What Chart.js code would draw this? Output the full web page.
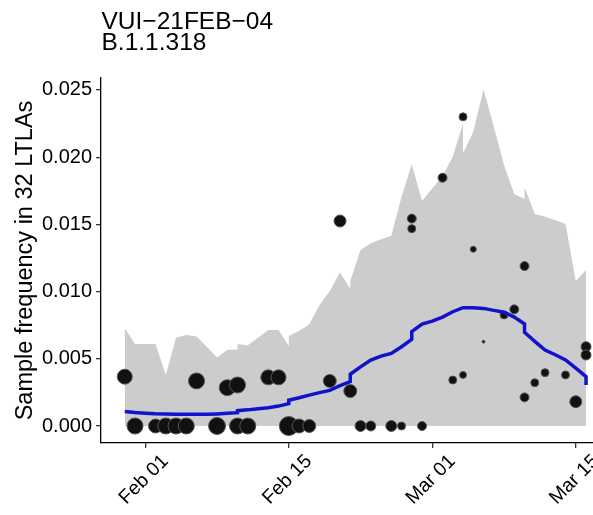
<!DOCTYPE html>
<html lang="en">
<head>
<meta charset="UTF-8">
<title>VUI-21FEB-04 B.1.1.318</title>
<script src="https://cdn.jsdelivr.net/npm/chart.js"></script>
<style>
  html, body { margin: 0; padding: 0; background: #fff; }
  #wrap { width: 593px; height: 515px; }
</style>
</head>
<body>
<div id="wrap"><canvas id="freqChart" width="593" height="515"></canvas></div>
<script>
// all x values are days since 2021-02-01
const titleLines = ["VUI\u221221FEB\u221204", "B.1.1.318"];
const yTitle = "Sample frequency in 32 LTLAs";

const xTickDays = [0, 14, 28, 42];
const xTickLabels = ["Feb 01", "Feb 15", "Mar 01", "Mar 15"];
const yTicks = [0, 0.005, 0.010, 0.015, 0.020, 0.025];

// grey ribbon (lower / upper bound)
const bandDay = [-2,-1,0,1,2,3,4,5,6,7,8,9,9,10,11,12,13,14,14,15,16,17,18,19,20,20,21,22,23,24,25,26,27,28,29,30,31,31,32,33,34,35,36,37,37,38,39,40,41,42,43];
const bandUpper = [0.00727,0.0061,0.0061,0.0061,0.0038,0.00657,0.00677,0.00665,0.0059,0.0051,0.00565,0.0057,0.0061,0.0060,0.00657,0.00714,0.00714,0.00595,0.0067,0.00707,0.00757,0.0090,0.01005,0.01143,0.0102,0.0108,0.0131,0.0136,0.0139,0.01416,0.01706,0.01947,0.01674,0.01767,0.0186,0.02004,0.02252,0.02029,0.0219,0.02505,0.02227,0.01942,0.01726,0.01689,0.01776,0.01577,0.01557,0.0153,0.01503,0.01079,0.0116];
const bandLower = bandDay.map(() => 0);

// blue fitted line
const lineDay = [-2,-1,0,1,2,3,4,5,6,7,8,9,9,10,11,12,13,14,14,15,16,17,18,19,20,20,21,22,23,24,25,26,26,27,28,29,30,31,32,33,34,35,36,37,37,38,39,40,41,42,43,43];
const lineFreq = [0.00107,0.0010,0.00095,0.00091,0.00089,0.00087,0.00087,0.00087,0.00087,0.0009,0.00094,0.00099,0.00114,0.0012,0.00128,0.00136,0.00148,0.00166,0.00192,0.0021,0.0023,0.00248,0.00265,0.003,0.0033,0.00385,0.0044,0.0049,0.0052,0.0054,0.0059,0.00645,0.00702,0.00759,0.0078,0.0081,0.0085,0.0088,0.0088,0.00875,0.0086,0.00846,0.0081,0.00759,0.00697,0.0063,0.00565,0.0053,0.00491,0.0043,0.00367,0.00305];

// observed daily frequencies, sized by number of samples
const ptDay = [-2,-1,1,2,3,4,5,7,8,9,9,10,12,13,14,15,16,18,19,20,21,22,24,25,26,26,27,29,30,31,31,32,33,35,36,37,37,38,39,41,42,43,43];
const ptFreq = [0.00367,0,0,0,0,0,0.00335,0,0.00285,0.00305,0,0,0.00362,0.00362,0,0,0,0.00335,0.01525,0.0026,0,0,0,0,0.01543,0.01468,0,0.01847,0.00342,0.0230,0.0038,0.01315,0.00627,0.00826,0.00868,0.0119,0.00213,0.00322,0.00397,0.0038,0.00181,0.0059,0.00528];
const ptN = [56,64,49,64,64,64,64,72,64,64,64,64,56,56,90,49,42,42,36,42,30,25,30,16,20,16,20,20,16,16,12,9,2,16,20,20,20,16,16,16,36,25,25];

const FONT = "'Liberation Sans', Arial, Helvetica, sans-serif";

const toXY = (xs, ys) => xs.map((d, i) => ({ x: d, y: ys[i] }));

const panelTitle = {
    id: "panelTitle",
    afterDraw(chart) {
        const ctx = chart.ctx;
        ctx.save();
        ctx.fillStyle = "#000";
        ctx.font = "24.5px " + FONT;
        ctx.textBaseline = "alphabetic";
        ctx.textAlign = "left";
        ctx.fillText(titleLines[0], chart.chartArea.left + 0.5, 28.5);
        ctx.fillText(titleLines[1], chart.chartArea.left + 0.5, 49.5);
        ctx.restore();
    }
};

const axisBits = {
    border: { display: true, color: "#000", width: 1.3 },
    grid: { display: true, drawOnChartArea: false, drawTicks: true, tickLength: 5, color: "#333", lineWidth: 1.3 }
};

new Chart(document.getElementById("freqChart"), {
    type: "line",
    data: {
        datasets: [
            {
                data: toXY(bandDay, bandLower),
                borderColor: "rgba(0,0,0,0)", borderWidth: 0,
                pointRadius: 0, fill: false, order: 3
            },
            {
                data: toXY(bandDay, bandUpper),
                borderColor: "rgba(0,0,0,0)", borderWidth: 0,
                backgroundColor: "#cccccc",
                pointRadius: 0, fill: "-1", order: 3
            },
            {
                type: "scatter",
                data: toXY(ptDay, ptFreq),
                pointRadius: ctx => Math.sqrt(ptN[ctx.dataIndex]),
                pointHoverRadius: ctx => Math.sqrt(ptN[ctx.dataIndex]),
                backgroundColor: "#111",
                borderColor: "#555",
                borderWidth: 1,
                order: 2
            },
            {
                data: toXY(lineDay, lineFreq),
                borderColor: "#1212cc",
                borderWidth: 3.5,
                pointRadius: 0, fill: false, tension: 0, order: 1
            }
        ]
    },
    options: {
        responsive: false,
        animation: false,
        devicePixelRatio: 1,
        layout: { autoPadding: false, padding: { top: 78, left: 0, right: 0, bottom: 0 } },
        plugins: { legend: { display: false }, tooltip: { enabled: false } },
        scales: {
            x: {
                type: "linear",
                min: -4.32, max: 43.68,
                afterBuildTicks: s => { s.ticks = xTickDays.map(v => ({ value: v })); },
                afterFit: s => { s.height = 72; s.paddingLeft = 0; s.paddingRight = 0; },
                ...axisBits,
                ticks: {
                    autoSkip: false, minRotation: 45, maxRotation: 45,
                    labelOffset: 20, padding: 2,
                    color: "#000", font: { size: 19.5, family: FONT },
                    callback: v => xTickLabels[xTickDays.indexOf(v)]
                }
            },
            y: {
                min: -0.001265, max: 0.02589,
                afterBuildTicks: s => { s.ticks = yTicks.map(v => ({ value: v })); },
                afterFit: s => { s.width = 101; s.paddingTop = 0; s.paddingBottom = 0; },
                ...axisBits,
                ticks: {
                    color: "#000", font: { size: 20, family: FONT }, padding: 4,
                    callback: v => v.toFixed(3)
                },
                title: {
                    display: true, text: yTitle, color: "#000",
                    font: { size: 23.5, family: FONT },
                    padding: { top: 11, bottom: 0 }
                }
            }
        }
    },
    plugins: [panelTitle]
});
</script>
</body>
</html>
